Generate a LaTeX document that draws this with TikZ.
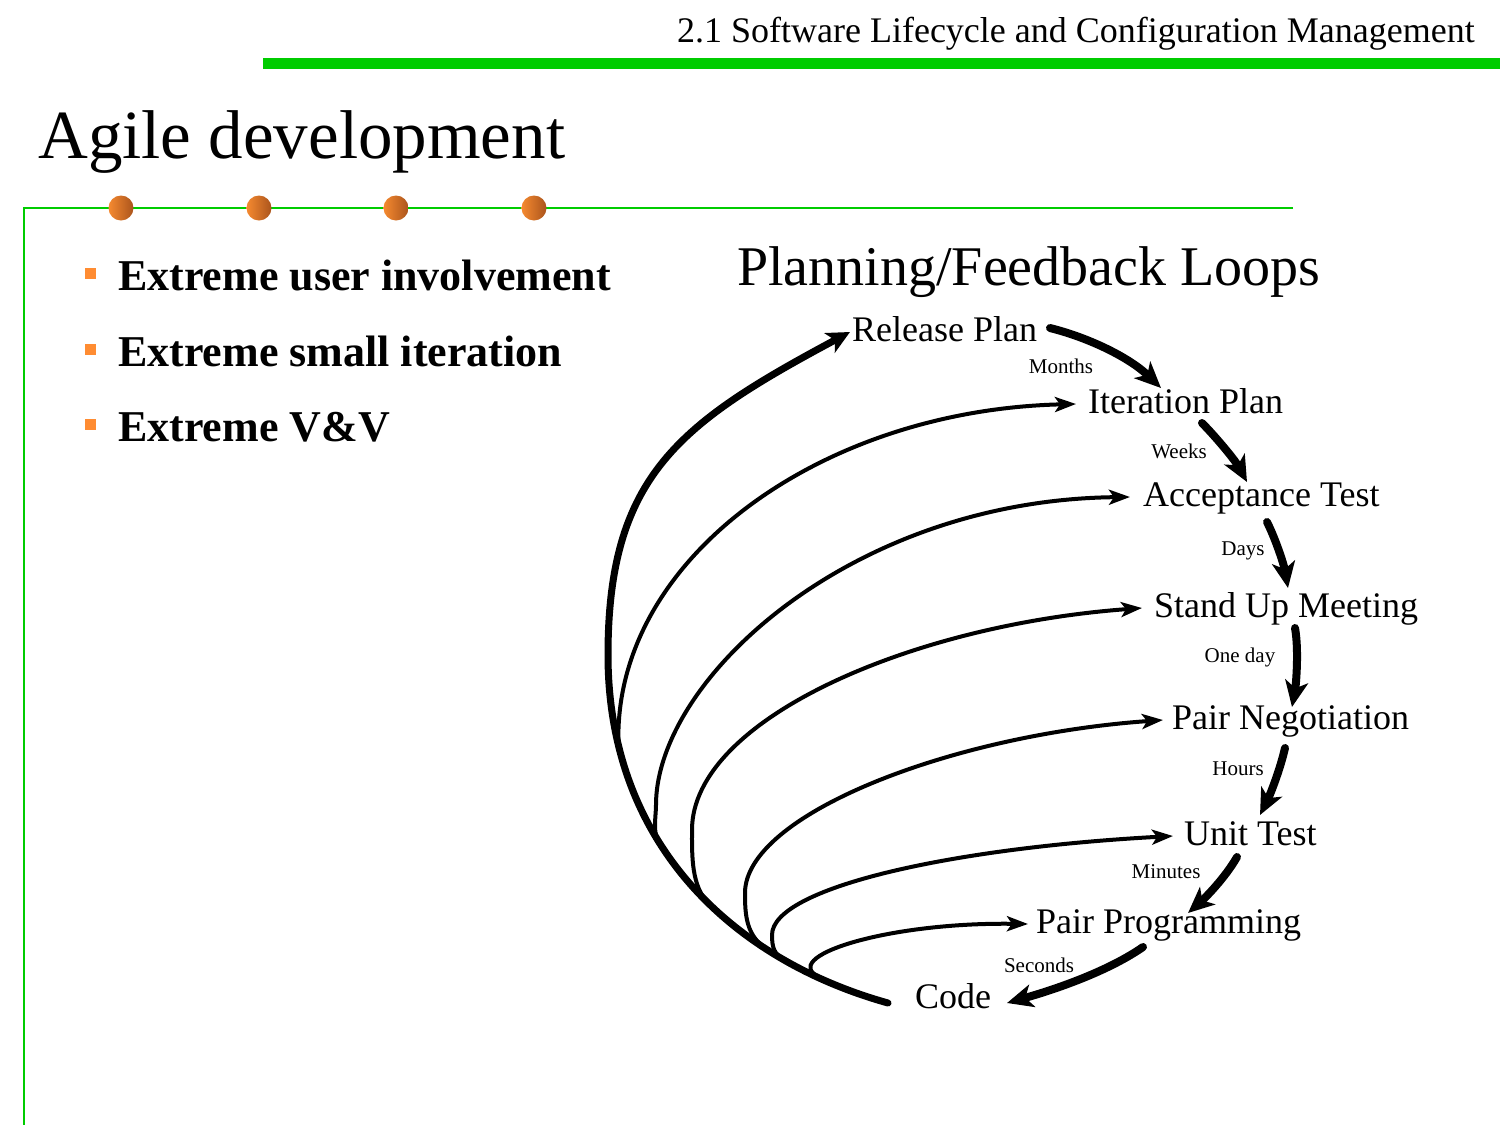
\documentclass[tikz,border=0pt]{standalone}
\usepackage{fontspec}
\setmainfont{Liberation Serif}
\usetikzlibrary{arrows.meta,calc}
\definecolor{hdrgreen}{RGB}{0,204,0}
\definecolor{bulor}{RGB}{255,140,50}
\definecolor{dotA}{RGB}{246,138,48}
\definecolor{dotB}{RGB}{170,84,28}
\tikzset{
  lbl/.style={anchor=west,inner sep=0pt,text height=25pt,text depth=7pt,font=\fontsize{36}{40}\selectfont},
  tm/.style={inner sep=0pt,font=\fontsize{21}{24}\selectfont},
  bul/.style={anchor=base west,inner sep=0pt,font=\fontsize{44}{50}\selectfont\bfseries},
  fb/.style={line width=4pt,-{Stealth[length=21pt,width=15pt,inset=5pt]}},
  fbo/.style={line width=7pt,line cap=round,-{Stealth[length=23pt,width=22pt,inset=6pt]}},
  dn/.style={line width=8pt,line cap=round,-{Stealth[length=26pt,width=23pt,inset=7pt]}},
  gdot/.style={circle,minimum size=25pt,inner sep=0pt,left color=dotA,right color=dotB,shading angle=90},
}
\begin{document}
\begin{tikzpicture}[x=1pt,y=-1pt]
\useasboundingbox (0,0) rectangle (1500,1125);
% header
\node[anchor=base east,inner sep=0pt,font=\fontsize{36}{40}\selectfont] (hdr) at (1475,42) {2.1 Software Lifecycle and Configuration Management};
\fill[hdrgreen] (263,58) rectangle (1500,69);
% title
\node[anchor=base west,inner sep=0pt,font=\fontsize{69}{74}\selectfont] (title) at (38,158) {Agile development};
\draw[hdrgreen,line width=2pt] (1293,208) -- (24,208) -- (24,1125);
\foreach \x [count=\i] in {121,259,396,534} \node[gdot] (dot\i) at (\x,208) {};
% bullets
\foreach \y/\t [count=\i] in {290/Extreme user involvement,366/Extreme small iteration,441/Extreme V\&V}{
  \fill[bulor] (84.5,\y-22.5) rectangle +(11,11);
  \node[bul] (b\i) at (118,\y) {\t};
}
% diagram title
\node[anchor=base west,inner sep=0pt,font=\fontsize{56}{60}\selectfont] (pft) at (737,285) {Planning/Feedback Loops};
% labels
\node[lbl] (rel) at (852,332) {Release Plan};
\node[lbl] (iter) at (1088,404) {Iteration Plan};
\node[lbl] (acc) at (1143,497) {Acceptance Test};
\node[lbl] (stand) at (1154,608) {Stand Up Meeting};
\node[lbl] (neg) at (1172,720) {Pair Negotiation};
\node[lbl] (unit) at (1184,836) {Unit Test};
\node[lbl] (prog) at (1036,924) {Pair Programming};
\node[lbl] (code) at (915,999) {Code};
% time labels
\node[tm] (tmonths) at (1061,366) {Months};
\node[tm] (tweeks) at (1179,451) {Weeks};
\node[tm] (tdays) at (1243,551) {Days};
\node[tm] (tday) at (1240,657) {One day};
\node[tm] (thours) at (1238,769) {Hours};
\node[tm] (tmin) at (1166,872) {Minutes};
\node[tm] (tsec) at (1039,965) {Seconds};
% feedback loops
\coordinate (s) at ($(code.west)+(-27,4)$);
\draw[fb] (s) .. controls (760.2,967.1) and (651.7,882) .. (618.5,745.4) .. controls (612,560) and (820,410) .. ($(iter.west)+(-12,0)$);
\draw[fb] (s) .. controls (792.5,976) and (707.8,921.9) .. (657.4,839.4) .. controls (653,830) and (656,815) .. (656,805) .. controls (656,680) and (850,500) .. ($(acc.west)+(-13,0)$);
\draw[fb] (s) .. controls (820.2,983.5) and (757.9,950.9) .. (709.3,904) .. controls (691,887) and (692,855) .. (692,830) .. controls (692,720) and (910,625) .. ($(stand.west)+(-12,0)$);
\draw[fb] (s) .. controls (844.9,990.2) and (804,972.7) .. (767.3,949.4) .. controls (746,936) and (745,915) .. (745,893) .. controls (745,815) and (950,735) .. ($(neg.west)+(-9,0)$);
\draw[fb] (s) .. controls (851,991.9) and (815.7,977.7) .. (783.3,959.1) .. controls (774,954) and (772,947) .. (772,935) .. controls (772,888) and (950,848) .. ($(unit.west)+(-11,0)$);
\draw[fb] (s) .. controls (864.9,995.7) and (842.5,987.7) .. (820.7,977.9) .. controls (775.5,957.5) and (885,922) .. ($(prog.west)+(-8,0)$);
\draw[fbo] (s) .. controls (734,960) and (608,845) .. (608,655) .. controls (608,475) and (680,423) .. ($(rel.west)+(-2,0)$);
% progression arrows
\draw[dn] ($(rel.west)+(198,-4)$) .. controls (1090,338) and (1130,358) .. ($(iter.west)+(73,-16)$);
\draw[dn] ($(iter.west)+(114,19)$) .. controls (1215,436) and (1235,460) .. ($(acc.west)+(104,-15)$);
\draw[dn] ($(acc.west)+(124,25)$) .. controls (1276,540) and (1284,565) .. ($(stand.west)+(134,-20)$);
\draw[dn] ($(stand.west)+(141,20)$) .. controls (1299,650) and (1296,685) .. ($(neg.west)+(120,-13)$);
\draw[dn] ($(neg.west)+(113,28)$) .. controls (1280,770) and (1270,795) .. ($(unit.west)+(76,-21)$);
\draw[dn] ($(unit.west)+(53,21)$) .. controls (1225,878) and (1205,898) .. ($(prog.west)+(152,-11)$);
\draw[dn] ($(prog.west)+(107,23)$) .. controls (1110,970) and (1060,988) .. ($(code.west)+(92,4)$);
\end{tikzpicture}
\end{document}
